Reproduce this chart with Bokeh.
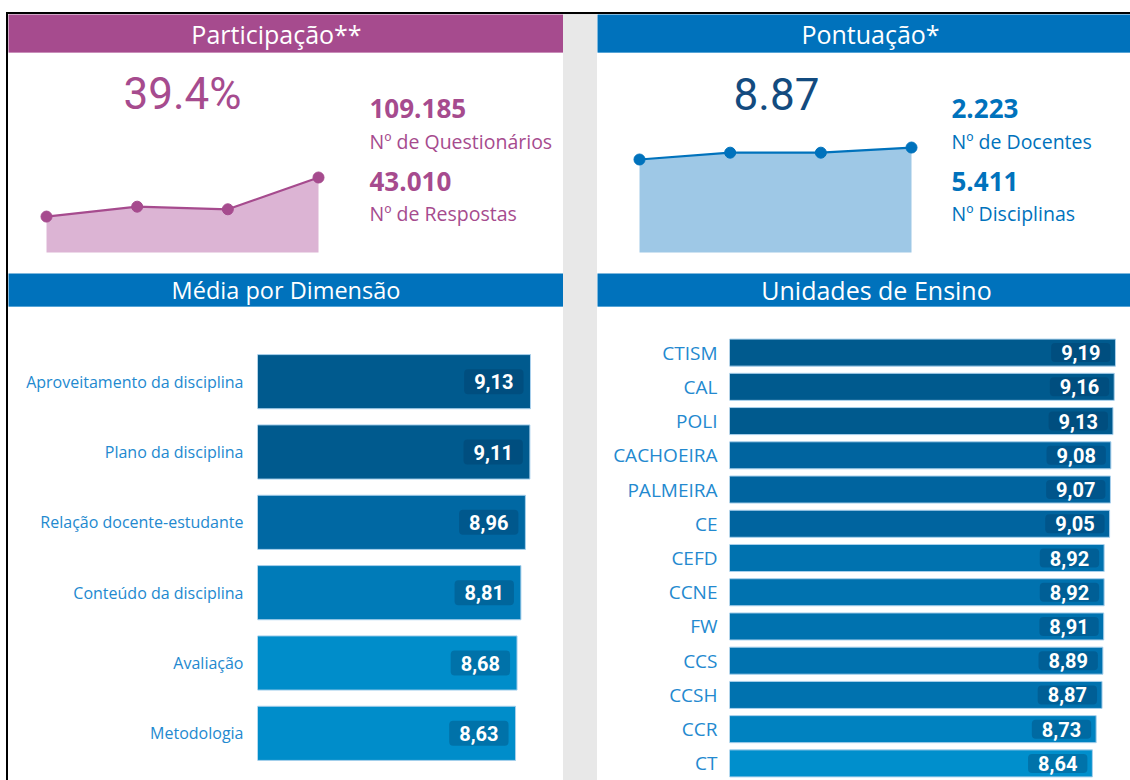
from bokeh.plotting import figure
from bokeh.models import Range1d, FactorRange, Label, Div, ColumnDataSource
from bokeh.layouts import column, row
from bokeh.core.properties import value
from bokeh.embed import file_html
from bokeh.resources import INLINE

# ---------------- data ----------------
part_periods = [0, 1, 2, 3]
part_values = [31.9, 33.8, 33.3, 39.4]
part_base = 25.0
part_total = "39.4%"
n_questionarios = "109.185"
n_respostas = "43.010"

score_periods = [0, 1, 2, 3]
score_values = [8.66, 8.78, 8.78, 8.87]
score_base = 7.03
score_total = "8.87"
n_docentes = "2.223"
n_disciplinas = "5.411"

dim_names = ["Aproveitamento da disciplina", "Plano da disciplina",
             "Relação docente-estudante", "Conteúdo da disciplina",
             "Avaliação", "Metodologia"]
dim_values = [9.13, 9.11, 8.96, 8.81, 8.68, 8.63]

unit_names = ["CTISM", "CAL", "POLI", "CACHOEIRA", "PALMEIRA", "CE", "CEFD",
              "CCNE", "FW", "CCS", "CCSH", "CCR", "CT"]
unit_values = [9.19, 9.16, 9.13, 9.08, 9.07, 9.05, 8.92, 8.92, 8.91, 8.89,
               8.87, 8.73, 8.64]

# ---------------- styles ----------------
MAGENTA = "#a64b8e"
MAGENTA_EDGE = "#d9a6cd"
MAGENTA_FILL = "#dcb4d4"
BLUE = "#0072bc"
BLUE_EDGE = "#5cb0e2"
BLUE_FILL = "#9ec8e6"
NAVY = "#134b7f"
LABEL_BLUE = "#2389cf"
GREY = "#e8e8e8"
UI_FONT = "Open Sans"
NUM_FONT = "Roboto"
dim_colors = ["#005a8e", "#005a8e", "#0068a3", "#007bb8", "#008dca", "#008dca"]
unit_colors = ["#005a8e"] * 3 + ["#00649f"] * 3 + ["#0072af"] * 5 + ["#0082c0", "#008fcc"]


def blank(w, h, bg="white", xr=(0, 1), yr=(0, 1), edge=None):
    p = figure(width=w, height=h, x_range=Range1d(*xr), y_range=Range1d(*yr),
               output_backend="svg", toolbar_location=None, title=None,
               x_axis_location=None, y_axis_location=None, min_border=0,
               background_fill_color=bg, border_fill_color=edge or bg,
               outline_line_color=None)
    if edge:
        p.min_border_bottom = 1
    p.grid.visible = False
    return p


def header(w, h, bg, edge, text, cx, size):
    p = blank(w, h, bg, edge=edge)
    p.add_layout(Label(x=cx, y=0.5, text=text, text_align="center",
                       text_baseline="middle", text_color="white",
                       text_font=UI_FONT, text_font_size=size))
    return row(p)


def spark(w, h, xs, vals, base, xr, yr, line_color, fill_color, big, big_color, big_cx):
    p = blank(w, h, "white", xr, yr)
    p.varea(x=xs, y1=[base] * len(xs), y2=vals, fill_color=fill_color, fill_alpha=1)
    p.line(xs, vals, line_color=line_color, line_width=2.2)
    p.scatter(xs, vals, size=11, fill_color=line_color, line_color=line_color)
    p.add_layout(Label(x=big_cx, y=h - 40, x_units="screen", y_units="screen",
                       text=big, text_align="center", text_baseline="alphabetic",
                       text_color=big_color, text_font=NUM_FONT,
                       text_font_size="44px"))
    return p


def stats(w, h, color, v1, l1, v2, l2):
    p = blank(w, h, "white", (0, w), (h, 0))
    for txt, base, size, style in [(v1, 55, "26px", "bold"), (l1, 88, "19.5px", "normal"),
                                   (v2, 128, "26px", "bold"), (l2, 160, "19.5px", "normal")]:
        p.add_layout(Label(x=9, y=base, text=txt, text_align="left",
                           text_baseline="alphabetic", text_color=color,
                           text_font=UI_FONT, text_font_size=size,
                           text_font_style=style))
    return p


def bars(w, h, names, vals, colors, left_px, top_px, bottom_px, ppu, bar_h,
         label_size, standoff, end_gap, pad_y):
    frame_w = w - left_px
    src = ColumnDataSource(dict(name=names, val=vals, color=colors,
                                lab=[f"{v:.2f}".replace(".", ",") for v in vals]))
    p = figure(width=w, height=h, y_range=FactorRange(factors=names[::-1]),
               x_range=Range1d(0, frame_w / ppu), output_backend="svg",
               toolbar_location=None, title=None, x_axis_location=None,
               y_axis_location="left", min_border_left=left_px, min_border_right=0,
               min_border_top=top_px, min_border_bottom=bottom_px,
               background_fill_color="white", border_fill_color="white",
               outline_line_color=None)
    p.grid.visible = False
    ax = p.yaxis[0]
    ax.axis_line_color = None
    ax.major_tick_line_color = None
    ax.minor_tick_line_color = None
    ax.major_tick_out = 0
    ax.major_tick_in = 0
    ax.major_label_standoff = standoff
    ax.major_label_text_font = UI_FONT
    ax.major_label_text_font_size = label_size
    ax.major_label_text_color = LABEL_BLUE
    p.hbar(y="name", left=0, right="val", height=bar_h, fill_color="color",
           line_color="#a8d0ec", line_width=1, source=src)
    p.text(x="val", y="name", text="lab", source=src, x_offset=-end_gap,
           text_align="right", text_baseline="middle", text_color="white",
           text_font=value(NUM_FONT), text_font_style="bold",
           text_font_size="20px", background_fill_color="#00365c",
           background_fill_alpha=0.3, border_radius=4,
           padding=dict(left=10, right=10, top=pad_y, bottom=pad_y))
    return row(p)


# ---------------- layout ----------------
LW, RW = 555, 533
GAP = 34
H1, H2, H3, H4 = 39, 220, 34, 473

left_header = header(LW, H1, MAGENTA, MAGENTA_EDGE, "Participação**", (276 - 8) / LW, "25px")
left_spark = spark(352, H2, part_periods, part_values, part_base,
                   (-38 / 90.67, -38 / 90.67 + 352 / 90.67), (20.97, 63.21),
                   MAGENTA, MAGENTA_FILL, part_total, MAGENTA, 174)
left_stats = stats(LW - 352, H2, MAGENTA, n_questionarios, "Nº de Questionários",
                   n_respostas, "Nº de Respostas")
left_header2 = header(LW, H3, BLUE, BLUE_EDGE, "Média por Dimensão", 0.5, "23.5px")
left_bars = bars(LW, H4, dim_names, dim_values, dim_colors, 249, 39, 12, 29.9,
                 0.77, "16px", 14, 7, 5)

right_header = header(RW, H1, BLUE, BLUE_EDGE, "Pontuação*", (870 - 597) / RW, "25px")
right_spark = spark(345, H2, score_periods, score_values, score_base,
                    (-42 / 90.67, -42 / 90.67 + 345 / 90.67), (6.66, 10.52),
                    BLUE, BLUE_FILL, score_total, NAVY, 179)
right_stats = stats(RW - 345, H2, BLUE, n_docentes, "Nº de Docentes",
                    n_disciplinas, "Nº Disciplinas")
right_header2 = header(RW, H3, BLUE, BLUE_EDGE, "Unidades de Ensino", (876 - 597) / RW, "25px")
right_bars = bars(RW, H4, unit_names, unit_values, unit_colors, 132, 28, 0, 42.0,
                  0.79, "19px", 12, 5, 2)

left_col = column(left_header, row(left_spark, left_stats), left_header2, left_bars)
right_col = column(right_header, row(right_spark, right_stats), right_header2, right_bars)

col_h = H1 + H2 + H3 + H4
inner_w = 2 + LW + GAP + RW
top_space = Div(width=6 + inner_w, height=12, margin=0)
left_space = Div(width=6, height=col_h + 2, margin=0)
top_line = Div(width=inner_w, height=2, margin=0, styles={"background-color": "black"})
left_line = Div(width=2, height=col_h, margin=0, styles={"background-color": "black"})
gap = Div(width=GAP, height=col_h, margin=0, styles={"background-color": GREY})

inner = row(left_line, left_col, gap, right_col)
layout = column(top_space, row(left_space, column(top_line, inner)))

open("out.html", "w").write(file_html(layout, INLINE))
